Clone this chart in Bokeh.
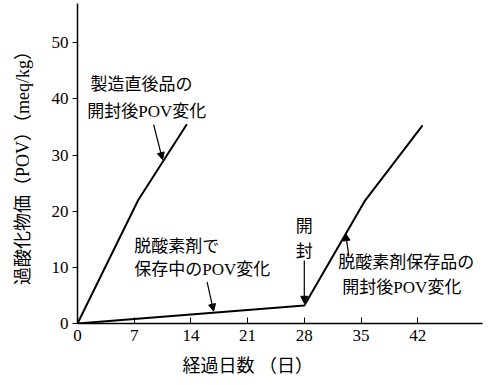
from bokeh.plotting import figure
from bokeh.models import Range1d, Arrow, NormalHead, FixedTicker, Title
from bokeh.core.properties import value
from bokeh.embed import file_html
from bokeh.resources import INLINE

# Data (days, POV meq/kg)
fresh_days = [0, 7.5, 13.5]
fresh_pov = [0, 22.0, 35.5]
stored_days = [0, 28, 35.5, 42.6]
stored_pov = [0, 3.2, 21.9, 35.3]
x_ticks = [0, 7, 14, 21, 28, 35, 42]
y_ticks = [0, 10, 20, 30, 40, 50]

label_fresh = ["製造直後品の", "開封後POV変化"]
label_storing = ["脱酸素剤で", "保存中のPOV変化"]
label_open = ["開", "封"]
label_stored = ["脱酸素剤保存品の", "開封後POV変化"]
x_title = "経過日数 （日）"
y_title = "過酸化物価（POV）（meq/kg）"

FONT = "'Liberation Serif', 'Noto Sans CJK JP'"

p = figure(width=489, height=385, output_backend="svg", toolbar_location=None,
           x_range=Range1d(0, 50), y_range=Range1d(0, 57),
           min_border_left=77, min_border_right=7, min_border_top=3, min_border_bottom=60)
p.outline_line_color = None
p.grid.visible = False
p.background_fill_color = "white"

p.line(fresh_days, fresh_pov, line_color="black", line_width=2)
p.line(stored_days, stored_pov, line_color="black", line_width=2)

for ax in (p.xaxis, p.yaxis):
    ax.axis_line_color = "black"
    ax.axis_line_width = 1.5
    ax.major_tick_line_color = "black"
    ax.minor_tick_line_color = None
    ax.major_label_text_font = "Liberation Serif"
    ax.major_label_text_font_size = "17px"
    ax.major_label_text_color = "black"
    ax.axis_label_text_font = FONT
    ax.axis_label_text_font_style = "normal"
    ax.axis_label_text_font_size = "18px"
    ax.axis_label_text_color = "black"

p.xaxis.ticker = FixedTicker(ticks=x_ticks)
p.yaxis.ticker = FixedTicker(ticks=y_ticks)
p.xaxis.major_tick_in = 6
p.xaxis.major_tick_out = 0
p.yaxis.major_tick_in = 0
p.yaxis.major_tick_out = 5
p.xaxis.major_label_standoff = 6
p.yaxis.major_label_standoff = 4
p.yaxis.axis_label = y_title
p.yaxis.axis_label_standoff = 16

p.add_layout(Title(text=x_title, align="left", offset=105, text_font=FONT,
                   text_font_size="18px", text_font_style="normal", text_color="black",
                   standoff=20), "below")

def txt(x, y, s, align="left"):
    p.text(x=[x], y=[y], text=[s], text_font=value(FONT), text_font_size="17px",
           text_color="black", text_baseline="middle", text_align=align)

txt(1.6, 42.5, label_fresh[0])
txt(1.2, 37.7, label_fresh[1])
txt(7.0, 13.8, label_storing[0])
txt(7.0, 9.6, label_storing[1])
txt(28.0, 17.2, label_open[0], "center")
txt(28.0, 12.9, label_open[1], "center")
txt(32.2, 10.9, label_stored[0])
txt(32.7, 6.4, label_stored[1])

def arrow(x0, y0, x1, y1):
    p.add_layout(Arrow(end=NormalHead(size=7, fill_color="black", line_color="black"),
                       x_start=x0, y_start=y0, x_end=x1, y_end=y1,
                       line_color="black", line_width=1.2))

arrow(9.4, 35.4, 10.5, 29.2)
arrow(16.0, 7.4, 16.8, 2.2)
arrow(28.0, 11.2, 28.0, 3.6)
arrow(33.5, 12.0, 33.1, 16.0)

open("out.html", "w").write(file_html(p, INLINE))
